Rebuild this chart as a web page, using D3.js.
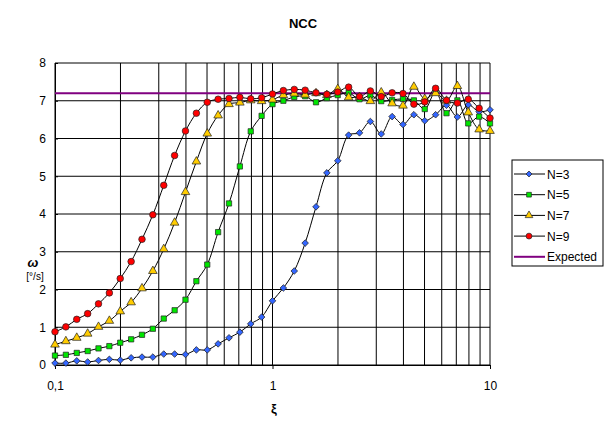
<!DOCTYPE html>
<html>
<head>
<meta charset="utf-8">
<script src="https://cdn.jsdelivr.net/npm/d3@7"></script>
<style>
  body { margin: 0; background: #fff; }
  svg { font-family: Arial, "Liberation Sans", sans-serif; }
</style>
</head>
<body>
<div class="chart"></div>
<script>
// x positions: 20 steps per decade from 0.1 to 10
const xStep = d3.range(41);
const xValues = xStep.map(k => +(0.1 * Math.pow(10, k / 20)).toPrecision(4));

const n3 = [0.05, 0.05, 0.11, 0.08, 0.12, 0.15, 0.13, 0.19, 0.21, 0.21,
            0.29, 0.29, 0.28, 0.40, 0.40, 0.56, 0.72, 0.87, 1.09, 1.27,
            1.70, 2.04, 2.49, 3.23, 4.19, 5.09, 5.41, 6.09, 6.15, 6.45,
            6.12, 6.58, 6.37, 6.63, 6.47, 6.63, 6.88, 6.57, 6.89, 6.71, 6.76];
const n5 = [0.25, 0.27, 0.32, 0.37, 0.44, 0.50, 0.59, 0.68, 0.80, 0.96,
            1.23, 1.45, 1.73, 2.22, 2.66, 3.52, 4.28, 5.26, 6.19, 6.60,
            6.91, 7.00, 7.10, 7.12, 6.96, 7.07, 7.15, 7.21, 7.04, 7.14,
            6.99, 7.02, 7.05, 7.01, 6.78, 7.24, 6.67, 7.01, 6.40, 6.58, 6.40];
const n7 = [0.54, 0.63, 0.72, 0.83, 1.01, 1.17, 1.42, 1.66, 2.03, 2.49,
            3.07, 3.77, 4.58, 5.39, 6.13, 6.61, 6.91, 6.95, 7.01, 6.99,
            7.03, 7.15, 7.19, 7.16, 7.20, 7.15, 7.31, 7.09, 7.10, 6.99,
            7.22, 6.93, 6.87, 7.37, 7.05, 7.20, 7.00, 7.39, 6.69, 6.24, 6.20];
const n9 = [0.88, 1.01, 1.21, 1.36, 1.62, 1.91, 2.29, 2.74, 3.33, 3.98,
            4.76, 5.55, 6.20, 6.67, 6.96, 7.04, 7.06, 7.09, 7.05, 7.08,
            7.18, 7.27, 7.30, 7.28, 7.21, 7.17, 7.23, 7.36, 7.11, 7.26,
            7.11, 7.21, 7.19, 6.91, 6.97, 7.33, 7.01, 6.94, 7.04, 6.80, 6.54];
const expected = 7.2;

const seriesNames = ["N=3", "N=5", "N=7", "N=9"];
const seriesValues = [n3, n5, n7, n9];
const seriesColors = ["#3366FF", "#00E600", "#FFCC00", "#FF0000"];
const seriesShapes = [d3.symbolSquare, d3.symbolSquare, d3.symbolTriangle, d3.symbolCircle];
const shapeRotate = [45, 0, 0, 0];
const shapeSizes = [22, 28, 32, 34];

const yTicks = d3.range(0, 9);
const xMajor = [0.1, 1, 10];
const xMinor = [0.2, 0.3, 0.4, 0.5, 0.6, 0.7, 0.8, 0.9, 2, 3, 4, 5, 6, 7, 8, 9];

const W = 604, H = 427;
const margin = {top: 63, left: 55, right: 114, bottom: 62};

const x = d3.scaleLog().domain([0.1, 10]).range([margin.left, W - margin.right]);
const y = d3.scaleLinear().domain([0, 8]).range([H - margin.bottom, margin.top]);

const svg = d3.select(".chart").append("svg")
  .attr("width", W).attr("height", H);

// title
svg.append("text").attr("x", 303).attr("y", 28)
  .attr("text-anchor", "middle").attr("font-size", 13).attr("font-weight", "bold")
  .text("NCC");

// grid
const grid = svg.append("g");
grid.selectAll(".hg").data(yTicks).enter().append("line")
  .attr("x1", x(0.1)).attr("x2", x(10))
  .attr("y1", d => y(d)).attr("y2", d => y(d))
  .attr("stroke", "#000").attr("stroke-width", 1);
grid.selectAll(".vg").data(xMinor.concat(xMajor)).enter().append("line")
  .attr("x1", d => x(d)).attr("x2", d => x(d))
  .attr("y1", y(0)).attr("y2", y(8))
  .attr("stroke", "#000").attr("stroke-width", 1);

// axes
const yAxis = d3.axisLeft(y).tickValues(yTicks).tickSizeInner(4).tickSizeOuter(0).tickPadding(5);
const gy = svg.append("g").attr("transform", `translate(${x(0.1)},0)`).call(yAxis);
gy.selectAll(".tick line").attr("x2", 3);
const xAxis = d3.axisBottom(x).tickValues(xMajor).tickSizeInner(4).tickSizeOuter(0).tickPadding(12)
  .tickFormat(d => d === 0.1 ? "0,1" : d3.format("d")(d));
const gx = svg.append("g").attr("transform", `translate(0,${y(0)})`).call(xAxis);
[gy, gx].forEach(g => {
  g.selectAll("text").attr("font-size", 12).attr("font-family", "Arial, 'Liberation Sans', sans-serif").attr("fill", "#000");
  g.select(".domain").attr("stroke", "#000");
});

// axis labels
svg.append("text").attr("x", 274).attr("y", 413).attr("text-anchor", "middle")
  .attr("font-size", 13).attr("font-weight", "bold").text("ξ");
svg.append("text").attr("x", 33).attr("y", 267).attr("text-anchor", "middle")
  .attr("font-size", 13).attr("font-weight", "bold").attr("font-style", "italic").text("ω");
svg.append("text").attr("x", 35).attr("y", 280).attr("text-anchor", "middle")
  .attr("font-size", 10).text("[°/s]");

// expected line
svg.append("line").attr("x1", x(0.1)).attr("x2", x(10))
  .attr("y1", y(expected)).attr("y2", y(expected))
  .attr("stroke", "#800080").attr("stroke-width", 2);

// series
const line = d3.line().x((d, i) => x(xValues[i])).y(d => y(d)).curve(d3.curveCatmullRom);
seriesValues.forEach((vals, s) => {
  const g = svg.append("g");
  g.append("path").datum(vals).attr("d", line)
    .attr("fill", "none").attr("stroke", "#000").attr("stroke-width", 1);
  g.selectAll("path.m").data(vals).enter().append("path").attr("class", "m")
    .attr("transform", (d, i) => `translate(${x(xValues[i])},${y(d)}) rotate(${shapeRotate[s]})`)
    .attr("d", d3.symbol().type(seriesShapes[s]).size(shapeSizes[s]))
    .attr("fill", seriesColors[s]).attr("stroke", "#222").attr("stroke-width", 0.7);
});

// legend
const lg = svg.append("g").attr("transform", "translate(512,160)");
lg.append("rect").attr("width", 91).attr("height", 106)
  .attr("fill", "#fff").attr("stroke", "#000").attr("stroke-width", 1);
const legendItems = seriesNames.concat(["Expected"]);
legendItems.forEach((name, i) => {
  const cy = 14 + i * 20.7;
  const it = lg.append("g").attr("transform", `translate(0,${cy})`);
  if (i < 4) {
    it.append("line").attr("x1", 2).attr("x2", 33).attr("stroke", "#000").attr("stroke-width", 1);
    it.append("path").attr("transform", `translate(17,0) rotate(${shapeRotate[i]})`)
      .attr("d", d3.symbol().type(seriesShapes[i]).size(shapeSizes[i] * 0.8))
      .attr("fill", seriesColors[i]).attr("stroke", "#222").attr("stroke-width", 0.7);
  } else {
    it.append("line").attr("x1", 2).attr("x2", 33).attr("stroke", "#800080").attr("stroke-width", 2);
  }
  it.append("text").attr("x", 35).attr("y", 4.5).attr("font-size", 12).text(name);
});
</script>
</body>
</html>
